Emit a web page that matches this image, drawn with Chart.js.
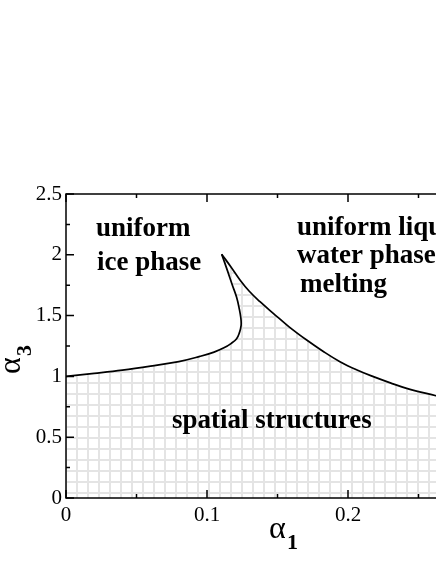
<!DOCTYPE html>
<html><head><meta charset="utf-8">
<script src="https://cdn.jsdelivr.net/npm/chart.js@4.4.0/dist/chart.umd.min.js"></script>
<style>
html,body{margin:0;padding:0;background:#fff;overflow:hidden;width:436px;height:564px}
#wrap{width:530px;height:564px}
canvas{display:block}
</style></head><body>
<div id="wrap"><canvas id="c" width="530" height="564"></canvas></div>
<script>
// lower boundary (from alpha1 = 0, around the nose, up to the cusp)
const lowerBranchX = [0, 0.02, 0.04, 0.06, 0.08, 0.095, 0.105, 0.112, 0.117, 0.121, 0.123, 0.1242, 0.124, 0.123, 0.121, 0.118, 0.1145, 0.1104];
const lowerBranchY = [1.00, 1.025, 1.052, 1.085, 1.122, 1.165, 1.20, 1.235, 1.27, 1.31, 1.36, 1.42, 1.48, 1.55, 1.65, 1.75, 1.87, 2.005];
// upper/right boundary (from the cusp down to the right)
const upperBranchX = [0.1104, 0.117, 0.1234, 0.13, 0.1376, 0.147, 0.158, 0.1707, 0.1825, 0.1943, 0.206, 0.218, 0.23, 0.2416, 0.2624, 0.27];
const upperBranchY = [2.005, 1.90, 1.793, 1.70, 1.614, 1.519, 1.41, 1.299, 1.205, 1.121, 1.055, 0.998, 0.947, 0.902, 0.841, 0.82];
// axes
const xTickLabels = ['0', '0.1', '0.2', '0.3'];
const yTickLabels = ['0', '0.5', '1', '1.5', '2', '2.5'];
const xRange = [0, 0.3];
const yRange = [0, 2.5];
// region texts
const iceText = ['uniform', 'ice phase'];
const liquidText = ['uniform liquid', 'water phase', 'melting'];
const structText = ['spatial structures'];

const lower = lowerBranchX.map((x, i) => ({x, y: lowerBranchY[i]}));
const upper = upperBranchX.map((x, i) => ({x, y: upperBranchY[i]}));
const boundary = lower.concat(upper.slice(1));
const fillShape = boundary.concat([{x: upperBranchX[upperBranchX.length - 1], y: yRange[0]}, {x: xRange[0], y: yRange[0]}]);

// grid hatch pattern
const tile = document.createElement('canvas');
tile.width = 11; tile.height = 11;
const tc = tile.getContext('2d');
tc.fillStyle = '#e4e4e4';
tc.fillRect(0, 0, 1, 11);
tc.fillRect(10, 0, 1, 11);
tc.fillRect(0, 8, 11, 2);
const pattern = document.getElementById('c').getContext('2d').createPattern(tile, 'repeat');

const SERIF = "'Liberation Serif', 'Times New Roman', serif";

const decor = {
  id: 'decor',
  afterDatasetsDraw(chart) {
    const ctx = chart.ctx;
    const a = chart.chartArea;
    const xs = chart.scales.x, ys = chart.scales.y;
    ctx.save();
    ctx.strokeStyle = '#000';
    ctx.lineWidth = 1.5;
    ctx.strokeRect(a.left, a.top, a.right - a.left, a.bottom - a.top);
    ctx.beginPath();
    xs.ticks.forEach(t => {
      const p = xs.getPixelForValue(t.value);
      const len = t.label !== '' ? 8 : 4;
      ctx.moveTo(p, a.bottom); ctx.lineTo(p, a.bottom - len);
      ctx.moveTo(p, a.top); ctx.lineTo(p, a.top + len);
    });
    ys.ticks.forEach(t => {
      const p = ys.getPixelForValue(t.value);
      const len = t.label !== '' ? 8 : 4;
      ctx.moveTo(a.left, p); ctx.lineTo(a.left + len, p);
      ctx.moveTo(a.right, p); ctx.lineTo(a.right - len, p);
    });
    ctx.stroke();

    // region labels
    ctx.fillStyle = '#000';
    ctx.textBaseline = 'alphabetic';
    ctx.textAlign = 'left';
    ctx.font = 'bold 27px ' + SERIF;
    ctx.fillText(iceText[0], 96, 236);
    ctx.fillText(iceText[1], 97, 270);
    ctx.fillText(liquidText[0], 297, 235);
    ctx.fillText(liquidText[1], 297, 263);
    ctx.fillText(liquidText[2], 300, 292);
    ctx.fillText(structText[0], 172, 428);

    // axis titles
    ctx.font = '32px ' + SERIF;
    ctx.fillText('\u03b1', 269, 538);
    ctx.font = 'bold 22px ' + SERIF;
    ctx.fillText('1', 287, 549);

    ctx.translate(20, 374);
    ctx.rotate(-Math.PI / 2);
    ctx.font = '32px ' + SERIF;
    ctx.fillText('\u03b1', 0, 0);
    ctx.font = 'bold 22px ' + SERIF;
    ctx.fillText('3', 18, 11);
    ctx.restore();
  }
};

new Chart(document.getElementById('c'), {
  type: 'scatter',
  data: {
    datasets: [
      {data: lower, showLine: true, fill: false, borderColor: '#000', borderWidth: 1.7, pointRadius: 0, tension: 0.4, order: 0},
      {data: upper, showLine: true, fill: false, borderColor: '#000', borderWidth: 1.7, pointRadius: 0, tension: 0.4, order: 0},
      {data: fillShape, showLine: true, fill: 'shape', backgroundColor: pattern, borderWidth: 0, pointRadius: 0, tension: 0.4, order: 5}
    ]
  },
  options: {
    responsive: false,
    animation: false,
    events: [],
    layout: {padding: {top: 194, right: 41, left: 0, bottom: 0}},
    plugins: {legend: {display: false}, tooltip: {enabled: false}},
    scales: {
      x: {
        type: 'linear', min: xRange[0], max: xRange[1],
        afterFit: s => { s.height = 66; },
        grid: {display: false, drawTicks: false},
        border: {display: false},
        ticks: {
          stepSize: 0.05, autoSkip: false, maxRotation: 0, padding: 5, color: '#000',
          font: {family: SERIF, size: 21},
          callback: v => { const r = Math.round(v * 20); return r % 2 === 0 ? xTickLabels[r / 2] : ''; }
        }
      },
      y: {
        type: 'linear', min: yRange[0], max: yRange[1],
        afterFit: s => { s.width = 66; },
        grid: {display: false, drawTicks: false},
        border: {display: false},
        ticks: {
          stepSize: 0.25, autoSkip: false, padding: 4, color: '#000',
          font: {family: SERIF, size: 21},
          callback: v => { const r = Math.round(v * 4); return r % 2 === 0 ? yTickLabels[r / 2] : ''; }
        }
      }
    }
  },
  plugins: [decor]
});
</script>
</body></html>
